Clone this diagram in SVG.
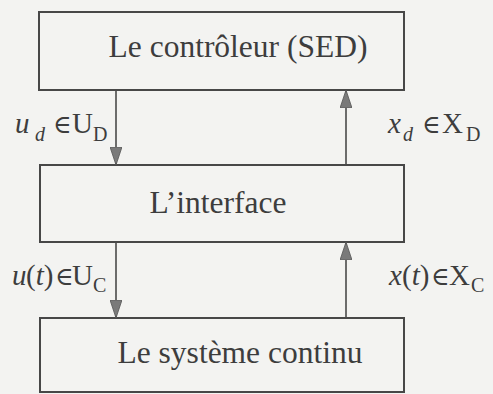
<svg xmlns="http://www.w3.org/2000/svg" width="493" height="394" viewBox="0 0 493 394">
  <defs>
    <style>
      .box { fill: none; stroke: #474747; stroke-width: 2; }
      .btxt { font-family: "Liberation Serif", "Times New Roman", serif; font-size: 31.5px; fill: #3d3d3d; text-anchor: middle; }
      .lbl { font-family: "Liberation Serif", "Times New Roman", serif; font-size: 29px; fill: #3d3d3d; }
      .it { font-style: italic; }
      .sub { font-size: 20px; }
      .el { font-family: "DejaVu Serif", serif; font-size: 25px; }
      .conn { stroke: #4a4a4a; stroke-width: 1.6; fill: none; }
    </style>
    <marker id="ah" viewBox="0 0 18 12" refX="18" refY="6" markerWidth="18" markerHeight="12" markerUnits="userSpaceOnUse" orient="auto">
      <path d="M0,0 L18,6 L0,12 Z" fill="#7a7a7a" stroke="#555" stroke-width="0.8"/>
    </marker>
  </defs>
  <rect x="0" y="0" width="493" height="394" fill="#f3f3f1"/>

  <g id="controleur">
    <rect class="box" x="39" y="12" width="365" height="78"/>
    <text class="btxt" x="238" y="57">Le contrôleur (SED)</text>
  </g>
  <g id="interface">
    <rect class="box" x="40" y="165" width="364" height="77"/>
    <text class="btxt" x="218" y="213">L’interface</text>
  </g>
  <g id="systeme">
    <rect class="box" x="40" y="318" width="364" height="74"/>
    <text class="btxt" x="240" y="363">Le système continu</text>
  </g>

  <g id="connectors">
    <line class="conn" x1="116" y1="90" x2="116" y2="165" marker-end="url(#ah)"/>
    <line class="conn" x1="346" y1="165" x2="346" y2="90" marker-end="url(#ah)"/>
    <line class="conn" x1="116" y1="242" x2="116" y2="318" marker-end="url(#ah)"/>
    <line class="conn" x1="346" y1="318" x2="346" y2="242" marker-end="url(#ah)"/>
  </g>

  <g id="labels">
    <text class="lbl" y="133"><tspan class="it" x="15">u</tspan><tspan class="it sub" x="35" y="141">d</tspan><tspan class="el" x="53" y="133">∈</tspan><tspan x="72">U</tspan><tspan class="sub" x="93" y="141">D</tspan></text>
    <text class="lbl" y="133"><tspan class="it" x="388">x</tspan><tspan class="it sub" x="403" y="141">d</tspan><tspan class="el" x="422" y="133">∈</tspan><tspan x="442">X</tspan><tspan class="sub" x="466" y="141">D</tspan></text>
    <text class="lbl" y="285"><tspan class="it" x="12">u</tspan><tspan x="26">(</tspan><tspan class="it">t</tspan><tspan>)</tspan><tspan class="el" x="55">∈</tspan><tspan x="72">U</tspan><tspan class="sub" x="93" y="292">C</tspan></text>
    <text class="lbl" y="285"><tspan class="it" x="389">x</tspan><tspan x="402">(</tspan><tspan class="it">t</tspan><tspan>)</tspan><tspan class="el" x="431">∈</tspan><tspan x="449">X</tspan><tspan class="sub" x="471" y="292">C</tspan></text>
  </g>
</svg>
